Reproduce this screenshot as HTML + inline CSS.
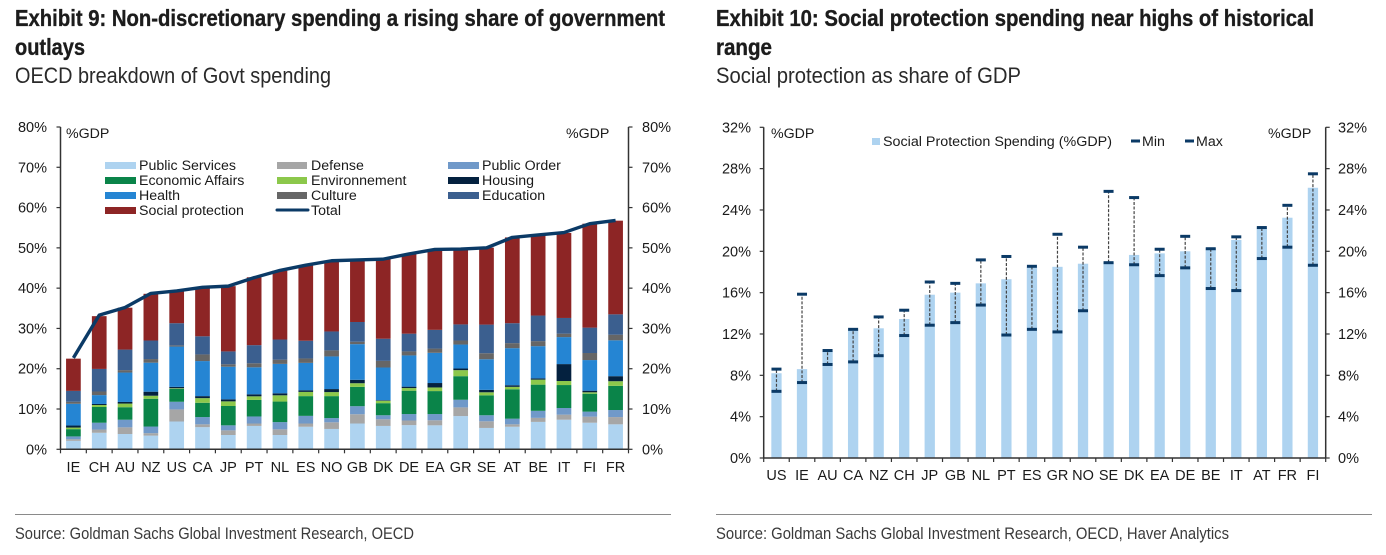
<!DOCTYPE html>
<html>
<head>
<meta charset="utf-8">
<style>
html,body{margin:0;padding:0;background:#fff;}
svg{display:block;}
text{font-family:"Liberation Sans",Arial,sans-serif;fill:#1a1a1a;}
.title{font-family:"Liberation Sans Narrow","Liberation Sans",sans-serif;font-weight:bold;font-size:23px;fill:#1c1c1c;stroke:#1c1c1c;stroke-width:0.35px;}
.sub{font-family:"Liberation Sans Narrow","Liberation Sans",sans-serif;font-size:22px;fill:#2a2a2a;}
.src{font-family:"Liberation Sans Narrow","Liberation Sans",sans-serif;font-size:17px;fill:#3a3a3a;}
.lg{font-size:14.2px;}
.tk{font-size:14.5px;}
</style>
</head>
<body>
<svg id="page" width="1386" height="555" viewBox="0 0 1386 555" xmlns="http://www.w3.org/2000/svg">
<rect width="1386" height="555" fill="#fff"/>
<text class="title" x="15" y="26" textLength="650" lengthAdjust="spacingAndGlyphs">Exhibit 9: Non-discretionary spending a rising share of government</text>
<text class="title" x="15" y="55" textLength="70" lengthAdjust="spacingAndGlyphs">outlays</text>
<text class="sub" x="15" y="83" textLength="316" lengthAdjust="spacingAndGlyphs">OECD breakdown of Govt spending</text>
<text class="title" x="716" y="26" textLength="598" lengthAdjust="spacingAndGlyphs">Exhibit 10: Social protection spending near highs of historical</text>
<text class="title" x="716" y="55" textLength="56" lengthAdjust="spacingAndGlyphs">range</text>
<text class="sub" x="716" y="83" textLength="305" lengthAdjust="spacingAndGlyphs">Social protection as share of GDP</text>

<g id="chart9"></g>
<g id="chart10"></g>

<text class="lg" x="66" y="138">%GDP</text>
<text class="lg" x="566" y="138">%GDP</text>
<text class="lg" x="771" y="138">%GDP</text>
<text class="lg" x="1268" y="138">%GDP</text>

<g>
<g><rect x="105" y="162" width="31" height="7" fill="#aed3f0"/><text class="lg" x="139" y="170">Public Services</text></g>
<g><rect x="105" y="177" width="31" height="7" fill="#0a8449"/><text class="lg" x="139" y="185">Economic Affairs</text></g>
<g><rect x="105" y="192" width="31" height="7" fill="#2585d3"/><text class="lg" x="139" y="200">Health</text></g>
<g><rect x="105" y="207" width="31" height="7" fill="#8d2525"/><text class="lg" x="139" y="215">Social protection</text></g>
<g><rect x="277" y="162" width="30" height="7" fill="#a6a6a6"/><text class="lg" x="311" y="170">Defense</text></g>
<g><rect x="277" y="177" width="30" height="7" fill="#8cc84b"/><text class="lg" x="311" y="185">Environnement</text></g>
<g><rect x="277" y="192" width="30" height="7" fill="#666666"/><text class="lg" x="311" y="200">Culture</text></g>
<g><line x1="277" y1="210" x2="308" y2="210" stroke="#0b3a66" stroke-width="3" stroke-linecap="round"/><text class="lg" x="311" y="215">Total</text></g>
<g><rect x="448" y="162" width="31" height="7" fill="#7099c9"/><text class="lg" x="482" y="170">Public Order</text></g>
<g><rect x="448" y="177" width="31" height="7" fill="#04213f"/><text class="lg" x="482" y="185">Housing</text></g>
<g><rect x="448" y="192" width="31" height="7" fill="#3b5f8f"/><text class="lg" x="482" y="200">Education</text></g>
</g>

<g>
<g><rect x="872" y="138" width="8" height="7" fill="#aed3f0"/><text class="lg" x="883" y="146" textLength="229" lengthAdjust="spacingAndGlyphs">Social Protection Spending (%GDP)</text></g>
<g><line x1="1131" y1="141" x2="1140" y2="141" stroke="#0b3a66" stroke-width="3"/><text class="lg" x="1142" y="146">Min</text></g>
<g><line x1="1185" y1="141" x2="1194" y2="141" stroke="#0b3a66" stroke-width="3"/><text class="lg" x="1196" y="146">Max</text></g>
</g>

<line x1="15" y1="514.5" x2="671" y2="514.5" stroke="#8a8a8a" stroke-width="1"/>
<line x1="716" y1="514.5" x2="1372" y2="514.5" stroke="#8a8a8a" stroke-width="1"/>
<text class="src" x="15" y="539" textLength="399" lengthAdjust="spacingAndGlyphs">Source: Goldman Sachs Global Investment Research, OECD</text>
<text class="src" x="716" y="539" textLength="513" lengthAdjust="spacingAndGlyphs">Source: Goldman Sachs Global Investment Research, OECD, Haver Analytics</text>
</svg>

<script>
// Exhibit 9 data (% of GDP)
const countries9 = ["IE","CH","AU","NZ","US","CA","JP","PT","NL","ES","NO","GB","DK","DE","EA","GR","SE","AT","BE","IT","FI","FR"];
const publicServices = [2.1,4.1,3.8,3.4,6.9,5.5,3.55,5.8,3.55,5.6,5.05,6.4,5.8,6.0,5.95,8.25,5.3,5.6,6.8,7.35,6.6,6.2];
const defense = [0.4,0.8,1.65,0.6,3.0,0.7,1.15,0.6,1.4,0.8,1.65,2.3,1.65,1.15,1.25,2.15,1.65,0.6,1.0,1.25,1.5,1.8];
const publicOrder = [0.7,1.7,1.9,1.65,1.9,1.8,1.25,1.75,1.8,1.9,1.05,2.0,1.0,1.6,1.55,1.9,1.5,1.4,1.75,1.65,1.25,1.75];
const economicAffairs = [1.8,3.9,3.1,6.9,3.2,3.55,4.8,4.1,5.1,4.9,5.45,4.8,3.0,5.8,5.7,5.85,4.95,7.3,6.5,5.7,4.45,6.0];
const environment = [0.4,0.5,0.9,0.75,0.15,1.15,1.15,0.9,1.55,1.05,1.0,0.9,0.6,0.65,0.9,1.5,0.75,0.6,1.25,1.0,0.35,1.15];
const housing = [0.5,0.25,0.4,1.0,0.35,0.5,0.5,0.5,0.5,0.4,0.75,0.85,0.15,0.35,1.1,0.4,0.6,0.4,0.3,4.2,0.4,1.25];
const health = [5.4,2.2,7.3,7.2,10.0,8.7,8.1,6.7,7.3,6.8,8.1,8.85,8.1,7.75,7.5,5.95,7.6,9.2,8.0,6.7,7.6,8.9];
const culture = [0.5,0.9,0.6,0.9,0.3,1.65,0.6,1.0,1.05,1.1,1.5,0.6,1.65,1.0,1.05,1.0,1.5,1.25,1.25,0.85,1.75,1.4];
const education = [2.7,5.6,5.1,4.6,5.5,4.5,3.2,4.5,5.0,4.4,4.7,4.9,5.5,4.4,4.65,4.0,7.1,4.95,6.35,3.9,6.3,5.05];
const socialProtection = [8.0,13.1,10.4,11.6,7.9,12.15,16.2,16.85,17.1,18.75,17.55,15.5,19.8,19.8,19.95,18.7,19.1,21.3,20.0,21.1,25.8,23.25];
const totalSpending = [22.7,33.3,35.2,38.7,39.3,40.2,40.5,42.6,44.4,45.7,46.8,47.0,47.2,48.5,49.6,49.7,50.0,52.6,53.2,53.8,56.0,56.8];
const ticks9 = [0,10,20,30,40,50,60,70,80];

// Exhibit 10 data (% of GDP)
const countries10 = ["US","IE","AU","CA","NZ","CH","JP","GB","NL","PT","ES","GR","NO","SE","DK","EA","DE","BE","IT","AT","FR","FI"];
const socialSpend = [8.2,8.6,10.35,12.45,12.55,13.45,15.8,16.0,16.9,17.3,18.5,18.5,18.8,18.95,19.65,19.8,20.0,20.3,21.1,22.3,23.25,26.15];
const minSpend = [6.45,7.3,9.05,9.3,9.9,11.85,12.85,13.1,14.8,11.9,12.45,12.2,14.25,18.9,18.7,17.65,18.4,16.4,16.2,19.3,20.4,18.65];
const maxSpend = [8.6,15.85,10.4,12.45,13.65,14.3,17.03,16.9,19.17,19.5,18.55,21.65,20.4,25.8,25.2,20.2,21.45,20.25,21.4,22.3,24.45,27.5];
const ticks10 = [0,4,8,12,16,20,24,28,32];

const NS = "http://www.w3.org/2000/svg";
function mk(parent, tag, attrs, txt) {
  const el = document.createElementNS(NS, tag);
  for (const k in attrs) el.setAttribute(k, attrs[k]);
  if (txt !== undefined) el.textContent = txt;
  parent.appendChild(el);
  return el;
}

// ---------- Exhibit 9 ----------
(function () {
  const root = document.getElementById("chart9");
  const L = 60.5, R = 628.5, B = 449.3, T = 127, yMax = 80;
  const step = (R - L) / countries9.length, bw = 14.7;
  const x = i => L + step * (i + 0.5);
  const y = v => B - (v / yMax) * (B - T);
  const layers = [
    ["public-services", publicServices, "#aed3f0"],
    ["defense", defense, "#a6a6a6"],
    ["public-order", publicOrder, "#7099c9"],
    ["economic-affairs", economicAffairs, "#0a8449"],
    ["environment", environment, "#8cc84b"],
    ["housing", housing, "#04213f"],
    ["health", health, "#2585d3"],
    ["culture", culture, "#666666"],
    ["education", education, "#3b5f8f"],
    ["social-protection", socialProtection, "#8d2525"]
  ];
  countries9.forEach((c, i) => {
    let acc = 0;
    layers.forEach(l => {
      const v = l[1][i];
      const r = mk(root, "rect", {x: x(i) - bw / 2, y: y(acc + v), width: bw, height: y(acc) - y(acc + v), fill: l[2]});
      
      
      acc += v;
    });
  });
  const pts = totalSpending.map((v, i) => x(i) + "," + y(v)).join(" ");
  const line = mk(root, "polyline", {points: pts, fill: "none", stroke: "#0b3a66", "stroke-width": 3.4, "stroke-linejoin": "round"});
  
  

  const axes = mk(root, "path", {d: `M${L} ${T}V${B}M${R} ${T}V${B}M${L} ${B}H${R}`, stroke: "#333", "stroke-width": 1.5, fill: "none"});
  
  
  ticks9.forEach(t => {
    const yy = y(t);
    mk(root, "line", {x1: L - 4, x2: L, y1: yy, y2: yy, stroke: "#333", "stroke-width": 1.2});
    mk(root, "line", {x1: R, x2: R + 4, y1: yy, y2: yy, stroke: "#333", "stroke-width": 1.2});
    const a = mk(root, "text", {class: "tk", x: 47, y: yy + 5, "text-anchor": "end"}, t + "%");
    
    
    const b = mk(root, "text", {class: "tk", x: 642, y: yy + 5}, t + "%");
    
    
  });
  for (let i = 0; i <= countries9.length; i++) {
    mk(root, "line", {x1: L + step * i, x2: L + step * i, y1: B, y2: B + 4, stroke: "#333", "stroke-width": 1.2});
  }
  countries9.forEach((c, i) => {
    const t = mk(root, "text", {class: "tk", x: x(i), y: 472, "text-anchor": "middle"}, c);
    
    
  });
})();

// ---------- Exhibit 10 ----------
(function () {
  const root = document.getElementById("chart10");
  const L = 763.7, R = 1325.7, B = 458, T = 127.3, yMax = 32;
  const step = (R - L) / countries10.length, bw = 10.3, cap = 10;
  const x = i => L + step * (i + 0.5);
  const y = v => B - (v / yMax) * (B - T);
  countries10.forEach((c, i) => {
    const r = mk(root, "rect", {x: x(i) - bw / 2, y: y(socialSpend[i]), width: bw, height: B - y(socialSpend[i]), fill: "#aed3f0"});
    
    
  });
  countries10.forEach((c, i) => {
    const d = mk(root, "line", {x1: x(i), x2: x(i), y1: y(minSpend[i]), y2: y(maxSpend[i]), stroke: "#444", "stroke-width": 1.2, "stroke-dasharray": "3,1.6"});
    
    
    const a = mk(root, "line", {x1: x(i) - cap / 2, x2: x(i) + cap / 2, y1: y(minSpend[i]), y2: y(minSpend[i]), stroke: "#0b3a66", "stroke-width": 3});
    
    
    const b = mk(root, "line", {x1: x(i) - cap / 2, x2: x(i) + cap / 2, y1: y(maxSpend[i]), y2: y(maxSpend[i]), stroke: "#0b3a66", "stroke-width": 3});
    
    
  });
  const axes = mk(root, "path", {d: `M${L} ${T}V${B}M${R} ${T}V${B}M${L} ${B}H${R}`, stroke: "#333", "stroke-width": 1.5, fill: "none"});
  
  
  ticks10.forEach(t => {
    const yy = y(t);
    mk(root, "line", {x1: L - 4, x2: L, y1: yy, y2: yy, stroke: "#333", "stroke-width": 1.2});
    mk(root, "line", {x1: R, x2: R + 4, y1: yy, y2: yy, stroke: "#333", "stroke-width": 1.2});
    const a = mk(root, "text", {class: "tk", x: 751, y: yy + 5, "text-anchor": "end"}, t + "%");
    
    
    const b = mk(root, "text", {class: "tk", x: 1338, y: yy + 5}, t + "%");
    
    
  });
  for (let i = 0; i <= countries10.length; i++) {
    mk(root, "line", {x1: L + step * i, x2: L + step * i, y1: B, y2: B + 4, stroke: "#333", "stroke-width": 1.2});
  }
  countries10.forEach((c, i) => {
    const t = mk(root, "text", {class: "tk", x: x(i), y: 480, "text-anchor": "middle"}, c);
    
    
  });
})();
</script>
</body>
</html>
